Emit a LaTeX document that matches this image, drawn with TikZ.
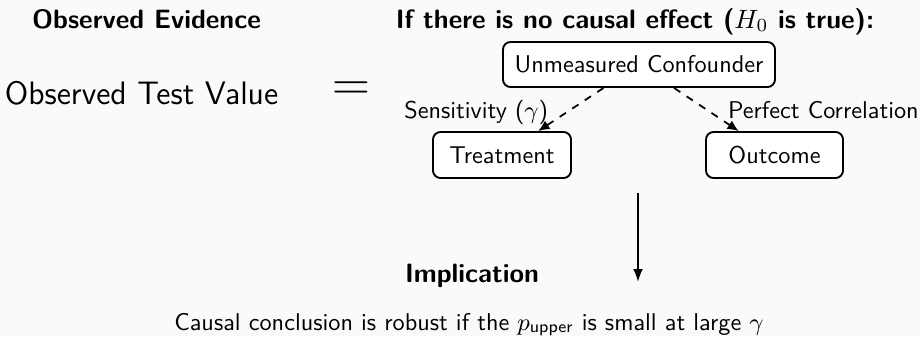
\RequirePackage{fix-cm}
\documentclass[tikz,border=0pt]{standalone}
\usepackage{amsmath}
\usetikzlibrary{arrows.meta}
\definecolor{bgc}{RGB}{250,250,250}
\newcommand{\bodysz}{\fontsize{9.7}{11.6}\selectfont}
\newcommand{\hdrsz}{\fontsize{10.6}{12.7}\selectfont}
\tikzset{
  box/.style={draw, line width=0.75pt, rounded corners=3pt, fill=white, font=\sffamily\bodysz, inner sep=3pt},
  conf/.style={draw, dashed, line width=0.7pt, -{Latex[length=4.5pt,width=4pt]}},
  lbl/.style={font=\sffamily\bodysz},
  hdr/.style={font=\sffamily\bfseries\hdrsz, anchor=base},
}
\begin{document}
\begin{tikzpicture}[x=0.4pt,y=-0.4pt]
\fill[bgc] (0,0) rectangle (920,336);
\useasboundingbox (0,0) rectangle (920,336);

\node[hdr] (h1) at (146.5,28) {Observed Evidence};
\node[hdr] (h2) at (635,28) {If there is no causal effect ($H_0$ is true):};

\node[font=\sffamily\fontsize{13}{15.6}\selectfont, anchor=base] (otv) at (141.5,104) {Observed Test Value};
\node[font=\fontsize{21}{25}\selectfont] (eq) at (351,91) {$=$};

\node[box, minimum width=108.8pt, minimum height=18pt] (U) at (639,64.5) {Unmeasured Confounder};
\node[box, minimum width=55.2pt, minimum height=18.4pt] (T) at (502,155) {Treatment};
\node[box, minimum width=54.8pt, minimum height=18.4pt] (O) at (774.5,155) {Outcome};

\draw[conf] (U) -- (T) node[lbl, midway, anchor=base east, xshift=-5.4pt, yshift=-3.4pt] (sl) {Sensitivity ($\gamma$)};
\draw[conf] (U) -- (O) node[lbl, midway, anchor=base west, xshift=5pt, yshift=-3.4pt] (pl) {Perfect Correlation};

\coordinate (a1) at (638,193);
\coordinate (a2) at (638,282);
\draw[line width=0.8pt, -{Latex[length=5.2pt,width=4pt]}] (a1) -- (a2);

\node[hdr] (imp) at (472,282.5) {Implication};
\node[lbl, anchor=base] (concl) at (469,330) {Causal conclusion is robust if the $p_{\text{upper}}$ is small at large $\gamma$};
\end{tikzpicture}
\end{document}
